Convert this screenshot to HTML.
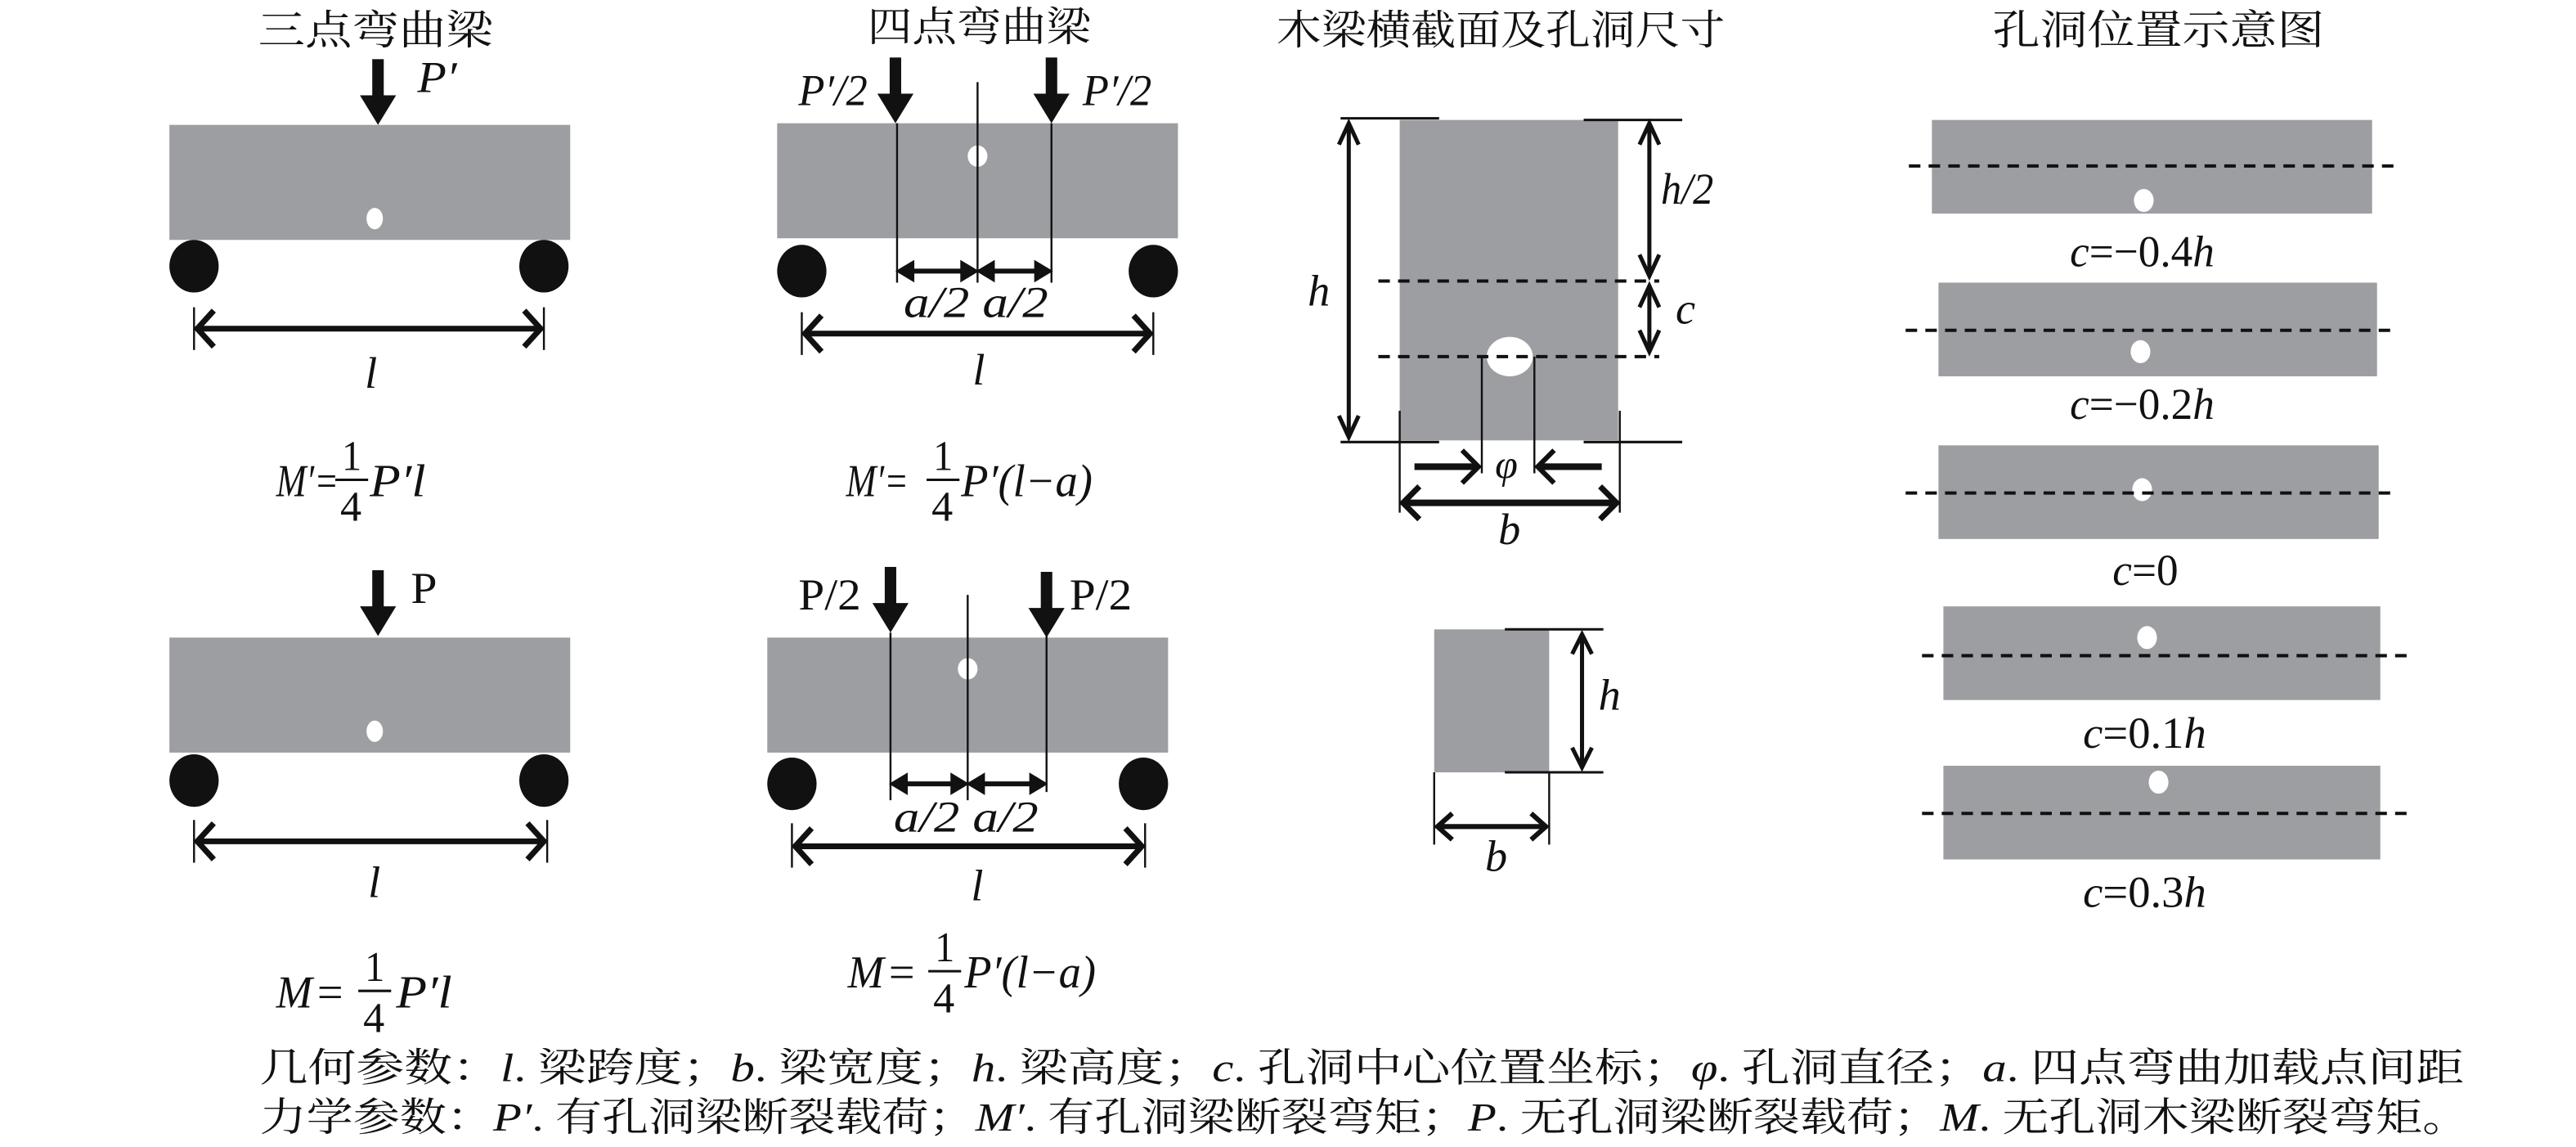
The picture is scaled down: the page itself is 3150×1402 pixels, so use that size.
<!DOCTYPE html>
<html><head><meta charset="utf-8"><style>
html,body{margin:0;padding:0;background:#fff;}
svg{display:block;}
text{font-family:"Liberation Serif","Noto Serif CJK SC",serif;fill:#111;}
.cn{font-family:"Liberation Serif","Noto Serif CJK SC","Noto Sans CJK SC",serif;}
.it{font-style:italic;}
</style></head><body>
<svg width="3150" height="1402" viewBox="0 0 1568 698" xmlns="http://www.w3.org/2000/svg">
<defs>
<g id="dn"><rect x="-3.5" y="0" width="7" height="24" fill="#111"/><polygon points="-11,22 11,22 0,40" fill="#111"/></g>
</defs>
<!-- titles -->
<text class="cn" x="157" y="27" font-size="25" textLength="143" lengthAdjust="spacingAndGlyphs">三点弯曲梁</text>
<text class="cn" x="528" y="25" font-size="25" textLength="136" lengthAdjust="spacingAndGlyphs">四点弯曲梁</text>
<text class="cn" x="777" y="27" font-size="25" textLength="273" lengthAdjust="spacingAndGlyphs">木梁横截面及孔洞尺寸</text>
<text class="cn" x="1213" y="27" font-size="25" textLength="202" lengthAdjust="spacingAndGlyphs">孔洞位置示意图</text>

<!-- ===== 3-point top ===== -->
<rect x="103" y="76" width="244" height="70" fill="#9d9ea2"/>
<ellipse cx="228" cy="133" rx="5" ry="6.5" fill="#fff"/>
<use href="#dn" x="230" y="36"/>
<text class="it" x="254" y="56" font-size="27" textLength="24" lengthAdjust="spacingAndGlyphs">P′</text>
<ellipse cx="118" cy="162" rx="15" ry="16" fill="#111"/>
<ellipse cx="331" cy="162" rx="15" ry="16" fill="#111"/>
<g stroke="#111" fill="none">
<line x1="118" y1="187" x2="118" y2="213" stroke-width="1.2"/><line x1="331" y1="187" x2="331" y2="213" stroke-width="1.2"/>
<line x1="120" y1="200" x2="329" y2="200" stroke-width="3.5"/>
<polyline points="130,189 120,200 130,211" stroke-width="3.5"/><polyline points="319,189 329,200 319,211" stroke-width="3.5"/>
</g>
<text class="it" x="222" y="236" font-size="27">l</text>
<text class="it" x="168" y="302" font-size="28" textLength="38" lengthAdjust="spacingAndGlyphs">M′=</text>
<text x="208" y="286" font-size="26" textLength="12" lengthAdjust="spacingAndGlyphs">1</text>
<line x1="204" y1="292" x2="224" y2="292" stroke="#111" stroke-width="1.5"/>
<text x="207" y="317" font-size="26" textLength="13" lengthAdjust="spacingAndGlyphs">4</text>
<text class="it" x="225" y="302" font-size="28" textLength="34" lengthAdjust="spacingAndGlyphs">P′l</text>

<!-- ===== 4-point top ===== -->
<rect x="473" y="75" width="244" height="70" fill="#9d9ea2"/>
<ellipse cx="595" cy="95" rx="6" ry="6.5" fill="#fff"/>
<use href="#dn" x="545" y="35"/>
<use href="#dn" x="640" y="35"/>
<text class="it" x="486" y="64" font-size="27" textLength="42" lengthAdjust="spacingAndGlyphs">P′/2</text>
<text class="it" x="659" y="64" font-size="27" textLength="42" lengthAdjust="spacingAndGlyphs">P′/2</text>
<g stroke="#111" fill="none" stroke-width="1.2">
<line x1="595" y1="50" x2="595" y2="172"/>
<line x1="546" y1="75" x2="546" y2="172"/>
<line x1="640" y1="75" x2="640" y2="172"/>
</g>
<g fill="#111" stroke="#111">
<line x1="552" y1="165" x2="589" y2="165" stroke-width="3"/>
<polygon points="546,165 556,159 556,171"/><polygon points="595,165 585,159 585,171"/>
<line x1="601" y1="165" x2="634" y2="165" stroke-width="3"/>
<polygon points="595,165 605,159 605,171"/><polygon points="640,165 630,159 630,171"/>
</g>
<text class="it" x="550" y="193" font-size="27" textLength="40" lengthAdjust="spacingAndGlyphs">a/2</text>
<text class="it" x="598" y="193" font-size="27" textLength="40" lengthAdjust="spacingAndGlyphs">a/2</text>
<ellipse cx="488" cy="165" rx="15" ry="16" fill="#111"/>
<ellipse cx="702" cy="165" rx="15" ry="16" fill="#111"/>
<g stroke="#111" fill="none">
<line x1="488" y1="190" x2="488" y2="216" stroke-width="1.2"/><line x1="702" y1="190" x2="702" y2="216" stroke-width="1.2"/>
<line x1="490" y1="203" x2="700" y2="203" stroke-width="3.5"/>
<polyline points="500,192 490,203 500,214" stroke-width="3.5"/><polyline points="690,192 700,203 690,214" stroke-width="3.5"/>
</g>
<text class="it" x="592" y="234" font-size="27">l</text>
<text class="it" x="515" y="302" font-size="28" textLength="38" lengthAdjust="spacingAndGlyphs">M′=</text>
<text x="568" y="286" font-size="26" textLength="12" lengthAdjust="spacingAndGlyphs">1</text>
<line x1="564" y1="292" x2="584" y2="292" stroke="#111" stroke-width="1.5"/>
<text x="567" y="317" font-size="26" textLength="13" lengthAdjust="spacingAndGlyphs">4</text>
<text class="it" x="585" y="302" font-size="28" textLength="80" lengthAdjust="spacingAndGlyphs">P′(l−a)</text>

<!-- ===== 3-point bottom ===== -->
<rect x="103" y="388" width="244" height="70" fill="#9d9ea2"/>
<ellipse cx="228" cy="445" rx="5" ry="6.5" fill="#fff"/>
<use href="#dn" x="230" y="347"/>
<text x="250" y="367" font-size="27" textLength="16" lengthAdjust="spacingAndGlyphs">P</text>
<ellipse cx="118" cy="475" rx="15" ry="16" fill="#111"/>
<ellipse cx="331" cy="475" rx="15" ry="16" fill="#111"/>
<g stroke="#111" fill="none">
<line x1="118" y1="499" x2="118" y2="525" stroke-width="1.2"/><line x1="333" y1="499" x2="333" y2="525" stroke-width="1.2"/>
<line x1="120" y1="512" x2="331" y2="512" stroke-width="3.5"/>
<polyline points="130,501 120,512 130,523" stroke-width="3.5"/><polyline points="321,501 331,512 321,523" stroke-width="3.5"/>
</g>
<text class="it" x="224" y="546" font-size="27">l</text>
<text class="it" x="168" y="613" font-size="28" textLength="22" lengthAdjust="spacingAndGlyphs">M</text>
<text x="193" y="613" font-size="28">=</text>
<text x="222" y="597" font-size="26" textLength="12" lengthAdjust="spacingAndGlyphs">1</text>
<line x1="218" y1="603" x2="238" y2="603" stroke="#111" stroke-width="1.5"/>
<text x="221" y="628" font-size="26" textLength="13" lengthAdjust="spacingAndGlyphs">4</text>
<text class="it" x="241" y="613" font-size="28" textLength="34" lengthAdjust="spacingAndGlyphs">P′l</text>

<!-- ===== 4-point bottom ===== -->
<rect x="467" y="388" width="244" height="70" fill="#9d9ea2"/>
<ellipse cx="589" cy="407" rx="6" ry="6.5" fill="#fff"/>
<use href="#dn" x="542" y="345"/>
<use href="#dn" x="637" y="348"/>
<text x="486" y="371" font-size="27" textLength="38" lengthAdjust="spacingAndGlyphs">P/2</text>
<text x="651" y="371" font-size="27" textLength="38" lengthAdjust="spacingAndGlyphs">P/2</text>
<g stroke="#111" fill="none" stroke-width="1.2">
<line x1="589" y1="362" x2="589" y2="487"/>
<line x1="542" y1="385" x2="542" y2="487"/>
<line x1="637" y1="385" x2="637" y2="482"/>
</g>
<g fill="#111" stroke="#111">
<line x1="548" y1="477" x2="583" y2="477" stroke-width="3"/>
<polygon points="542,477 552,471 552,483"/><polygon points="589,477 579,471 579,483"/>
<line x1="595" y1="477" x2="631" y2="477" stroke-width="3"/>
<polygon points="589,477 599,471 599,483"/><polygon points="637,477 627,471 627,483"/>
</g>
<text class="it" x="544" y="506" font-size="27" textLength="40" lengthAdjust="spacingAndGlyphs">a/2</text>
<text class="it" x="592" y="506" font-size="27" textLength="40" lengthAdjust="spacingAndGlyphs">a/2</text>
<ellipse cx="482" cy="477" rx="15" ry="16" fill="#111"/>
<ellipse cx="696" cy="477" rx="15" ry="16" fill="#111"/>
<g stroke="#111" fill="none">
<line x1="482" y1="501" x2="482" y2="528" stroke-width="1.2"/><line x1="697" y1="501" x2="697" y2="528" stroke-width="1.2"/>
<line x1="484" y1="515" x2="695" y2="515" stroke-width="3.5"/>
<polyline points="494,504 484,515 494,526" stroke-width="3.5"/><polyline points="685,504 695,515 685,526" stroke-width="3.5"/>
</g>
<text class="it" x="591" y="548" font-size="27">l</text>
<text class="it" x="516" y="601" font-size="28" textLength="22" lengthAdjust="spacingAndGlyphs">M</text>
<text x="541" y="601" font-size="28">=</text>
<text x="569" y="585" font-size="26" textLength="12" lengthAdjust="spacingAndGlyphs">1</text>
<line x1="565" y1="591" x2="585" y2="591" stroke="#111" stroke-width="1.5"/>
<text x="568" y="616" font-size="26" textLength="13" lengthAdjust="spacingAndGlyphs">4</text>
<text class="it" x="587" y="601" font-size="28" textLength="80" lengthAdjust="spacingAndGlyphs">P′(l−a)</text>

<!-- ===== cross section ===== -->
<rect x="852" y="73" width="133" height="195" fill="#9d9ea2"/>
<ellipse cx="919" cy="217" rx="14" ry="12" fill="#fff"/>
<g stroke="#111" fill="none">
<line x1="816" y1="72" x2="876" y2="72" stroke-width="1.5"/>
<line x1="964" y1="73" x2="1024" y2="73" stroke-width="1.5"/>
<line x1="816" y1="269" x2="876" y2="269" stroke-width="1.5"/>
<line x1="964" y1="269" x2="1024" y2="269" stroke-width="1.5"/>
<line x1="839" y1="171" x2="1010" y2="171" stroke-width="2" stroke-dasharray="7,5"/>
<line x1="839" y1="217" x2="1010" y2="217" stroke-width="2" stroke-dasharray="7,5"/>
<line x1="821" y1="75" x2="821" y2="266" stroke-width="2.5"/>
<polyline points="815,88 821,75 827,88" stroke-width="2.5"/><polyline points="815,253 821,266 827,253" stroke-width="2.5"/>
<line x1="1004" y1="75" x2="1004" y2="168" stroke-width="2.5"/>
<polyline points="998,88 1004,75 1010,88" stroke-width="2.5"/><polyline points="998,155 1004,168 1010,155" stroke-width="2.5"/>
<line x1="1004" y1="174" x2="1004" y2="214" stroke-width="2.5"/>
<polyline points="998,187 1004,174 1010,187" stroke-width="2.5"/><polyline points="998,201 1004,214 1010,201" stroke-width="2.5"/>
<line x1="902" y1="217" x2="902" y2="288" stroke-width="1.2"/>
<line x1="934" y1="217" x2="934" y2="288" stroke-width="1.2"/>
<line x1="852" y1="250" x2="852" y2="312" stroke-width="1.2"/>
<line x1="986" y1="250" x2="986" y2="312" stroke-width="1.2"/>
<line x1="861" y1="284" x2="900" y2="284" stroke-width="4"/>
<polyline points="890,274 900,284 890,294" stroke-width="3"/>
<line x1="936" y1="284" x2="975" y2="284" stroke-width="4"/>
<polyline points="946,274 936,284 946,294" stroke-width="3"/>
<line x1="854" y1="306" x2="984" y2="306" stroke-width="4"/>
<polyline points="864,296 854,306 864,316" stroke-width="3.5"/><polyline points="974,296 984,306 974,316" stroke-width="3.5"/>
</g>
<text class="it" x="796" y="186" font-size="27">h</text>
<text class="it" x="1011" y="124" font-size="27" textLength="32" lengthAdjust="spacingAndGlyphs">h/2</text>
<text class="it" x="1020" y="197" font-size="27">c</text>
<text class="it" x="910" y="291" font-size="25">φ</text>
<text class="it" x="912" y="331" font-size="27">b</text>

<!-- small section -->
<rect x="873" y="383" width="70" height="87" fill="#9d9ea2"/>
<g stroke="#111" fill="none">
<line x1="916" y1="383" x2="976" y2="383" stroke-width="1.5"/>
<line x1="916" y1="470" x2="976" y2="470" stroke-width="1.5"/>
<line x1="963" y1="386" x2="963" y2="467" stroke-width="2.5"/>
<polyline points="957,398 963,386 969,398" stroke-width="2.5"/><polyline points="957,455 963,467 969,455" stroke-width="2.5"/>
<line x1="873" y1="470" x2="873" y2="514" stroke-width="1.2"/>
<line x1="943" y1="470" x2="943" y2="514" stroke-width="1.2"/>
<line x1="875" y1="503" x2="941" y2="503" stroke-width="3"/>
<polyline points="884,495 875,503 884,511" stroke-width="3"/><polyline points="932,495 941,503 932,511" stroke-width="3"/>
</g>
<text class="it" x="973" y="432" font-size="27">h</text>
<text class="it" x="904" y="530" font-size="27">b</text>

<!-- ===== hole positions ===== -->
<g fill="#9d9ea2">
<rect x="1176" y="73" width="268" height="57"/>
<rect x="1180" y="172" width="267" height="57"/>
<rect x="1180" y="271" width="268" height="57"/>
<rect x="1183" y="369" width="266" height="57"/>
<rect x="1183" y="466" width="266" height="57"/>
</g>
<g fill="#fff">
<ellipse cx="1305" cy="122" rx="6" ry="7"/>
<ellipse cx="1303" cy="214" rx="6" ry="7"/>
<ellipse cx="1304" cy="298" rx="6" ry="7"/>
<ellipse cx="1307" cy="388" rx="6" ry="7"/>
<ellipse cx="1314" cy="476" rx="6" ry="7"/>
</g>
<g stroke="#111" stroke-width="2" stroke-dasharray="7,5">
<line x1="1162" y1="101" x2="1460" y2="101"/>
<line x1="1160" y1="201" x2="1457" y2="201"/>
<line x1="1160" y1="300" x2="1457" y2="300"/>
<line x1="1170" y1="399" x2="1466" y2="399"/>
<line x1="1170" y1="495" x2="1466" y2="495"/>
</g>
<text x="1260" y="162" font-size="27" textLength="88" lengthAdjust="spacingAndGlyphs"><tspan class="it">c</tspan>=−0.4<tspan class="it">h</tspan></text>
<text x="1260" y="255" font-size="27" textLength="88" lengthAdjust="spacingAndGlyphs"><tspan class="it">c</tspan>=−0.2<tspan class="it">h</tspan></text>
<text x="1286" y="356" font-size="27" textLength="40" lengthAdjust="spacingAndGlyphs"><tspan class="it">c</tspan>=0</text>
<text x="1268" y="455" font-size="27" textLength="75" lengthAdjust="spacingAndGlyphs"><tspan class="it">c</tspan>=0.1<tspan class="it">h</tspan></text>
<text x="1268" y="552" font-size="27" textLength="75" lengthAdjust="spacingAndGlyphs"><tspan class="it">c</tspan>=0.3<tspan class="it">h</tspan></text>

<!-- bottom legend -->
<text class="cn" x="158" y="658" font-size="24" textLength="1342" lengthAdjust="spacingAndGlyphs">几何参数：<tspan class="it">l</tspan>. 梁跨度；<tspan class="it">b</tspan>. 梁宽度；<tspan class="it">h</tspan>. 梁高度；<tspan class="it">c</tspan>. 孔洞中心位置坐标；<tspan class="it">φ</tspan>. 孔洞直径；<tspan class="it">a</tspan>. 四点弯曲加载点间距</text>
<text class="cn" x="158" y="688" font-size="24" textLength="1345" lengthAdjust="spacingAndGlyphs">力学参数：<tspan class="it">P′</tspan>. 有孔洞梁断裂载荷；<tspan class="it">M′</tspan>. 有孔洞梁断裂弯矩；<tspan class="it">P</tspan>. 无孔洞梁断裂载荷；<tspan class="it">M</tspan>. 无孔洞木梁断裂弯矩。</text>
</svg>
</body></html>
